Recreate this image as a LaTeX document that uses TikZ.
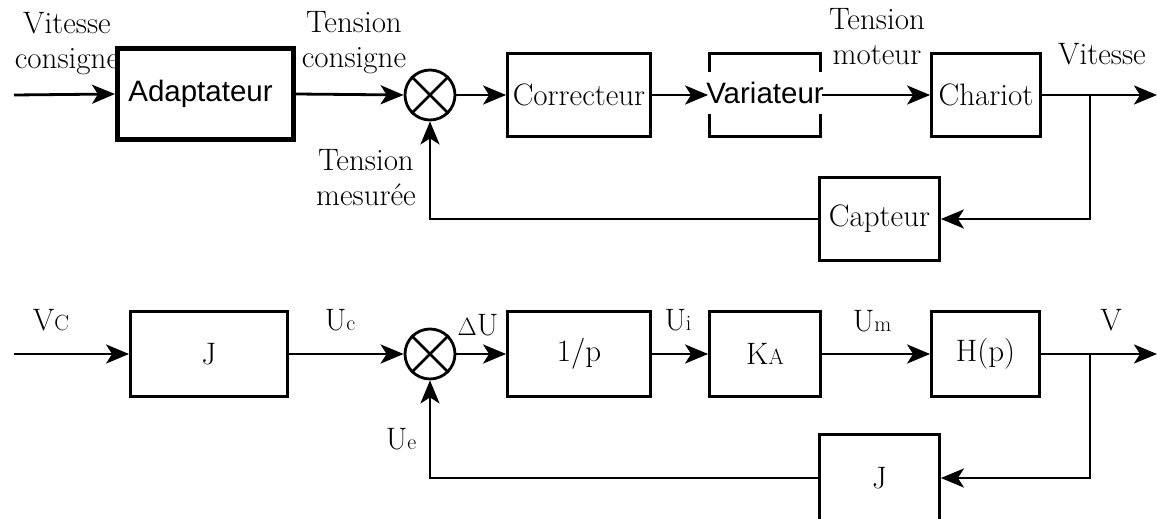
\documentclass[tikz,border=0pt]{standalone}
\usepackage{fontspec}
\newfontfamily\arialf{Liberation Sans}
\usetikzlibrary{arrows.meta}
\newcommand{\bigserif}{\fontsize{31}{35}\selectfont}
\newcommand{\bigsans}{\arialf\fontsize{29.5}{35}\selectfont}
\newcommand{\smallidx}[1]{{\fontsize{22}{22}\selectfont #1}}
\begin{document}
\begin{tikzpicture}[x=1pt,y=-1pt,
  blk/.style={draw, line width=2.8pt, fill=white, inner sep=0pt, font=\bigserif},
  sig/.style={line width=2.8pt, -{Stealth[length=23pt,width=19pt,inset=6pt]}},
  lbl/.style={inner sep=0pt, font=\bigserif, align=center},
  sumnode/.style={circle, draw, line width=2.8pt, fill=white, minimum size=50pt, inner sep=0pt}
]
\useasboundingbox (0,0) rectangle (1157,519);

% ---------- top diagram ----------
\node[lbl] (lvc) at (67,43.9) {Vitesse\\consigne};
\node[lbl] (ltc) at (354,42.9) {Tension\\consigne};
\node[blk, line width=5pt, minimum width=176pt, minimum height=90pt, font=\bigsans] (adapt) at (205.5,94) {Adaptateur\hspace*{10pt}};
\node[sumnode] (s1) at (430,95) {};
\draw[line width=2.8pt] (s1.45) -- (s1.225) (s1.135) -- (s1.315);
\node[blk, minimum width=143pt, minimum height=83pt] (corr) at (579,95) {Correcteur};
\node[blk, minimum width=111pt, minimum height=83pt] (var) at (765,95) {};
\node[inner sep=0pt, fill=white, minimum width=117pt, minimum height=41pt, font=\bigsans] (vart) at (765,93) {Variateur};
\node[blk, minimum width=109pt, minimum height=83pt] (char) at (986,95) {Chariot};
\node[blk, minimum width=120pt, minimum height=83pt] (capt) at (879.5,219) {Capteur};
\node[lbl] (ltm) at (366,177.9) {Tension\\mesurée};
\node[lbl] (lmot) at (877,36.9) {Tension\\moteur};
\node[lbl, anchor=base] (lvit) at (1102,65) {Vitesse};

\coordinate (in1) at (14,95);
\coordinate (out1) at (1157,95);
\coordinate (br1) at (1090,95);

\draw[sig] (in1) -- (adapt.west);
\draw[sig] (adapt.east) -- (s1.west);
\draw[sig] (s1.east) -- (corr.west);
\draw[sig] (corr.east) -- (var.west);
\draw[sig] (var.east) -- (char.west);
\draw[sig] (char.east) -- (out1);
\draw[sig] (br1) |- (capt.east);
\draw[sig] (capt.west) -| (s1.south);

% ---------- bottom diagram ----------
\node[blk, minimum width=157pt, minimum height=85pt] (j1) at (209,354) {J};
\node[sumnode] (s2) at (430,354) {};
\draw[line width=2.8pt] (s2.45) -- (s2.225) (s2.135) -- (s2.315);
\node[blk, minimum width=143pt, minimum height=85pt] (inv) at (579,354) {1/p};
\node[blk, minimum width=111pt, minimum height=85pt] (ka) at (765,354) {K\smallidx{A}};
\node[blk, minimum width=108pt, minimum height=85pt] (hp) at (985.5,354) {H(p)};
\node[blk, minimum width=120pt, minimum height=87pt] (j2) at (879.5,478) {J};

\coordinate (in2) at (14,354);
\coordinate (out2) at (1157,354);
\coordinate (br2) at (1090,354);

\node[lbl, anchor=base] (lvc2) at (51,330) {V\smallidx{C}};
\node[lbl, anchor=base] (luc) at (340,330) {U\smallidx{c}};
\node[lbl, anchor=base] (ldu) at (478,335) {$\Delta$U};
\node[lbl, anchor=base] (lui) at (678,330) {U\smallidx{i}};
\node[lbl, anchor=base] (lum) at (872,331) {U\smallidx{m}};
\node[lbl, anchor=base] (lv) at (1111,330) {V};
\node[lbl, anchor=base] (lue) at (401,449) {U\smallidx{e}};

\draw[sig] (in2) -- (j1.west);
\draw[sig] (j1.east) -- (s2.west);
\draw[sig] (s2.east) -- (inv.west);
\draw[sig] (inv.east) -- (ka.west);
\draw[sig] (ka.east) -- (hp.west);
\draw[sig] (hp.east) -- (out2);
\draw[sig] (br2) |- (j2.east);
\draw[sig] (j2.west) -| (s2.south);
\end{tikzpicture}
\end{document}
